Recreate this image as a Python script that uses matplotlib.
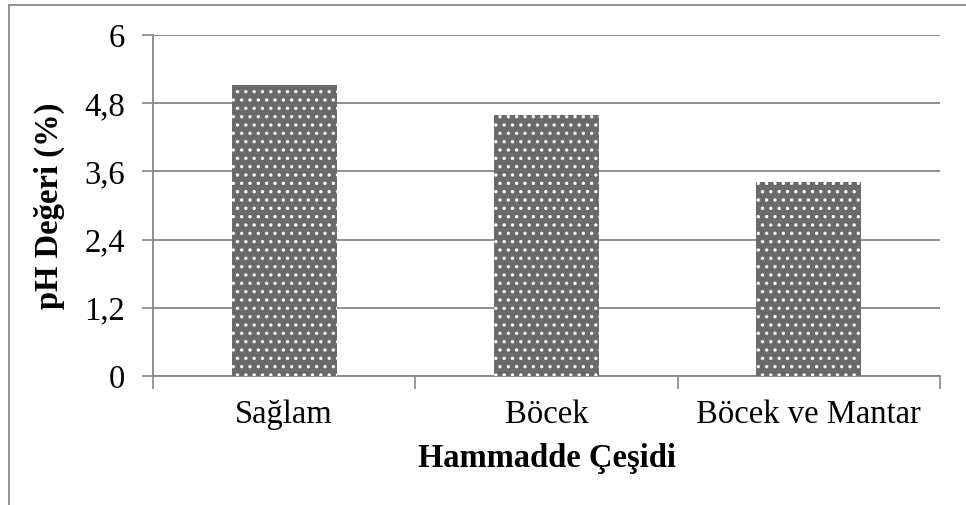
import matplotlib.pyplot as plt
from matplotlib.lines import Line2D
import numpy as np

categories = ["Sağlam", "Böcek", "Böcek ve Mantar"]
ph_values = [5.12, 4.60, 3.42]
y_ticks = [0, 1.2, 2.4, 3.6, 4.8, 6]
y_tick_labels = ["0", "1,2", "2,4", "3,6", "4,8", "6"]

plt.rcParams['font.family'] = ['Liberation Serif', 'DejaVu Serif']
plt.rcParams['hatch.color'] = 'white'
plt.rcParams['hatch.linewidth'] = 1.2

W, H = 966, 505
fig = plt.figure(figsize=(W / 100, H / 100), dpi=100)
ax = fig.add_axes([153 / W, 1 - 376 / H, (940 - 153) / W, (376 - 35) / H])

x = np.arange(len(categories))
ax.bar(x, ph_values, width=0.40, color='#6a6a6a', edgecolor='white',
       linewidth=0, hatch='..', zorder=3)

ax.set_xlim(-0.5, len(categories) - 0.5)
ax.set_ylim(0, 6)
ax.set_yticks(y_ticks)
ax.set_yticklabels(y_tick_labels, fontsize=23.5)
ax.set_xticks(x)
ax.set_xticklabels(categories, fontsize=23.5)
ax.tick_params(axis='x', length=0, pad=17)
ax.tick_params(axis='y', length=8, width=1.2, color='#868686', pad=12)
ax.set_xticks(np.arange(-0.5, len(categories), 1), minor=True)
ax.tick_params(axis='x', which='minor', length=9, width=1.2, color='#868686')

ax.grid(axis='y', color='#868686', linewidth=1.3, zorder=0)
for s in ['top', 'right']:
    ax.spines[s].set_visible(False)
for s in ['left', 'bottom']:
    ax.spines[s].set_color('#868686')
    ax.spines[s].set_linewidth(1.3)

ax.set_xlabel("Hammadde Çeşidi", fontsize=23.5, fontweight='bold', labelpad=9)
ax.set_ylabel("pH Değeri (%)", fontsize=23.5, fontweight='bold', labelpad=14)

# outer chart frame
fig.add_artist(Line2D([8.5 / W, 8.5 / W], [0, 1 - 4.5 / H], color='#8a8a8a', lw=1.3))
fig.add_artist(Line2D([8.5 / W, 1], [1 - 4.5 / H, 1 - 4.5 / H], color='#8a8a8a', lw=1.3))

fig.savefig("out.png", dpi=100)
